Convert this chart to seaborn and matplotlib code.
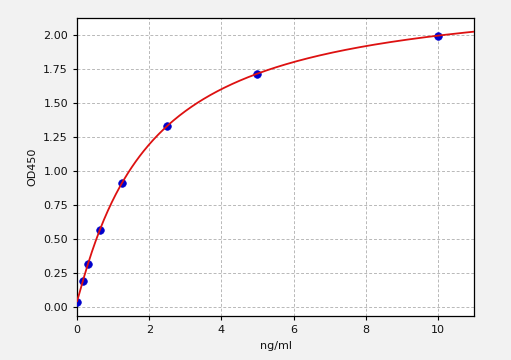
import numpy as np
import pandas as pd
import matplotlib
matplotlib.use("Agg")
import matplotlib.pyplot as plt
import seaborn as sns

conc = [0.0, 0.156, 0.3125, 0.625, 1.25, 2.5, 5.0, 10.0]
od = [0.04, 0.19, 0.32, 0.57, 0.91, 1.335, 1.715, 1.995]
xticks = [0, 2, 4, 6, 8, 10]
yticks = [0.00, 0.25, 0.50, 0.75, 1.00, 1.25, 1.50, 1.75, 2.00]

# 4PL fit: for each (b, c) solve linear least squares for (a, d)
x = np.array(conc)
y = np.array(od)
best = None
for b in np.linspace(0.5, 2.0, 151):
    for c in np.linspace(0.5, 20, 391):
        g = 1.0 / (1.0 + (x / c) ** b)
        A = np.column_stack([g, 1 - g])
        coef, *_ = np.linalg.lstsq(A, y, rcond=None)
        r = np.sum((A @ coef - y) ** 2)
        if best is None or r < best[0]:
            best = (r, b, c, coef)
_, b, c, (a, d) = best
xs = np.linspace(0, 11, 400)
ys = d + (a - d) / (1 + (xs / c) ** b)

sns.set_style("whitegrid")
plt.rcParams['font.family'] = ['DejaVu Sans']

fig = plt.figure(figsize=(5.11, 3.60), dpi=100, facecolor='#f2f2f2')
ax = fig.add_axes([0.1507, 0.1222, 0.777, 0.8278])
ax.set_facecolor('white')

sns.scatterplot(x=conc, y=od, ax=ax, color='#0000cc', s=30, edgecolor='#0000cc', linewidth=0.5, zorder=3)
sns.lineplot(x=xs, y=ys, ax=ax, color='#dd1111', linewidth=1.3, zorder=4)

ax.set_xlim(0, 11)
ax.set_ylim(-0.065, 2.125)
ax.set_xticks(xticks)
ax.set_yticks(yticks)
ax.set_yticklabels([f"{v:.2f}" for v in yticks])
ax.grid(True, linestyle=(0, (3, 2)), color='#b8b8b8', linewidth=0.7)
for s in ax.spines.values():
    s.set_color('black')
    s.set_linewidth(0.9)
ax.tick_params(axis='both', labelsize=8, length=3, color='black', labelcolor='#111111', left=True, bottom=True)
ax.set_xlabel('ng/ml', fontsize=8, color='#111111')
ax.set_ylabel('OD450', fontsize=8, color='#111111')

fig.savefig('out.png', dpi=100, facecolor=fig.get_facecolor())
